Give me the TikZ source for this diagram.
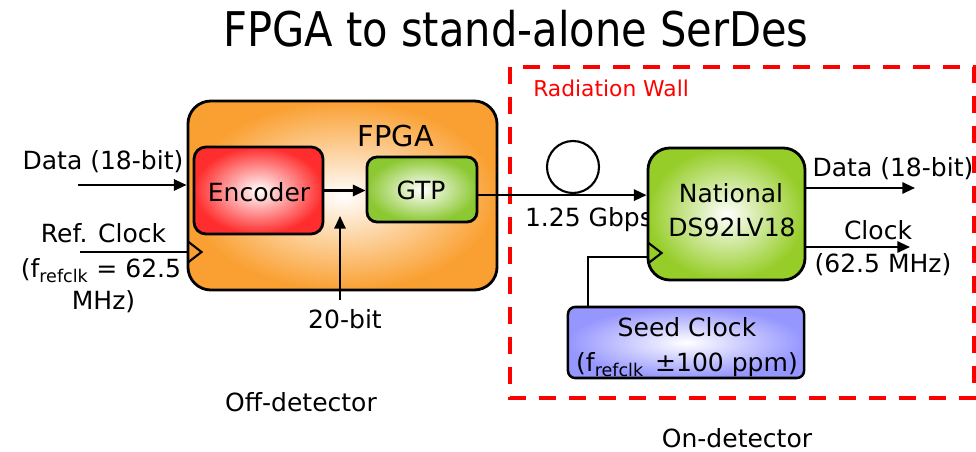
\documentclass[tikz,border=0pt]{standalone}
\usepackage{fontspec}
\setmainfont{DejaVu Sans}
\newfontfamily\titlefont{DejaVu Sans}[FakeStretch=0.87]
\usetikzlibrary{arrows.meta,calc}
\definecolor{fpgaorange}{RGB}{250,160,50}
\definecolor{encred}{RGB}{255,45,45}
\definecolor{gtpgreen}{RGB}{140,200,50}
\definecolor{natgreen}{RGB}{150,205,40}
\definecolor{seedblue}{RGB}{150,150,255}
\tikzset{
  lbl/.style={anchor=base, inner sep=0pt, font=\fontsize{17.8}{21}\selectfont},
  blk/.style={draw=black, line width=2pt, shading=radial, inner color=white},
  arr/.style={line width=1.5pt, -{Triangle[length=9pt,width=8pt]}},
  wire/.style={line width=1.5pt},
  wall/.style={draw=red, line width=2.8pt, dash pattern=on 0.425cm off 0.325cm}
}
\begin{document}
\begin{tikzpicture}[x=0.025cm,y=-0.025cm]
\useasboundingbox (0,0) rectangle (976,452);
\def\clkmark#1{\draw[wire] ($(#1)+(2,-10)$) -- ++(13,10) -- ++(-13,10);}
% ---- title ----
\node[anchor=base, inner sep=0pt, font=\titlefont\fontsize{34}{40}\selectfont] (title) at (516,47) {FPGA to stand-alone SerDes};
% ---- radiation wall (dashed) ----
\draw[wall] (510,67) rectangle (974,398);
\node[lbl, anchor=base west, text=red, font=\fontsize{15.5}{19}\selectfont] (walllbl) at (533,97) {Radiation Wall};
% ---- FPGA side ----
\node[blk, outer color=fpgaorange, rounded corners=0.575cm, minimum width=7.725cm, minimum height=4.725cm] (fpga) at (342.5,195.5) {};
\node[lbl, font=\fontsize{20.5}{24}\selectfont] (fpgalbl) at (396,147) {FPGA};
\node[blk, outer color=encred, rounded corners=0.3cm, minimum width=3.225cm, minimum height=2.175cm] (enc) at (258.5,190.5) {};
\node[lbl] (enclbl) at (259,202) {Encoder};
\node[blk, outer color=gtpgreen, rounded corners=0.25cm, minimum width=2.75cm, minimum height=1.625cm] (gtp) at (422,189.5) {};
\node[lbl] (gtplbl) at (421,200) {GTP};
\draw[arr] (enc.east) -- (enc.east -| gtp.west);
% ---- inputs ----
\node[lbl] (datainlbl) at (103,170) {Data (18-bit)};
\coordinate (datain) at (78,185);
\draw[arr] (datain) -- (datain -| fpga.west);
\node[lbl] (reflbl) at (103.5,243) {Ref. Clock};
\node[lbl] (reffreq) at (101,278) {(f\textsubscript{refclk} = 62.5};
\node[lbl] (refunit) at (103.5,310) {MHz)};
\coordinate (refin) at (80,252);
\draw[wire] (refin) -- (refin -| fpga.west);
\clkmark{refin -| fpga.west}
\node[lbl, inner ysep=7pt] (bits) at (345,329) {20-bit};
\coordinate (bitstip) at (340,216);
\draw[arr] (bits.north -| bitstip) -- (bitstip);
\node[lbl] (offlbl) at (301,412) {Off-detector};
% ---- link ----
\node[draw, circle, line width=1.5pt, minimum size=1.3cm] (fiber) at (573,167) {};
\node[lbl] (rate) at (589,227) {1.25 Gbps};
% ---- detector side ----
\node[blk, outer color=natgreen, rounded corners=0.55cm, minimum width=3.925cm, minimum height=3.3cm] (nat) at (726.5,214) {};
\node[lbl] (natlbl) at (731,203) {National};
\node[lbl] (natpart) at (732,237) {DS92LV18};
\draw[arr] ([yshift=-4pt]gtp.east) -- ([yshift=-4pt]gtp.east -| nat.west);
\coordinate (dataout) at (915,188);
\draw[arr] (dataout -| nat.east) -- (dataout);
\node[lbl] (dataoutlbl) at (893,177) {Data (18-bit)};
\coordinate (clkout) at (910,247);
\draw[arr] (clkout -| nat.east) -- (clkout);
\node[lbl] (clkoutlbl) at (878,240) {Clock};
\node[lbl] (clkfreq) at (883,273) {(62.5 MHz)};
\node[blk, outer color=seedblue, line width=1.8pt, rounded corners=0.18cm, minimum width=5.9cm, minimum height=1.775cm] (seed) at (686,342.5) {};
\node[lbl] (seedlbl) at (687,337) {Seed Clock};
\node[lbl] (seedfreq) at (687,372) {(f\textsubscript{refclk}\hspace{0.45em}±100 ppm)};
\coordinate (seedtap) at (588,257);
\draw[wire] (seed.north -| seedtap) |- (seedtap -| nat.west);
\clkmark{nat.west |- 0,253}
\node[lbl] (onlbl) at (737,448) {On-detector};
\end{tikzpicture}
\end{document}
